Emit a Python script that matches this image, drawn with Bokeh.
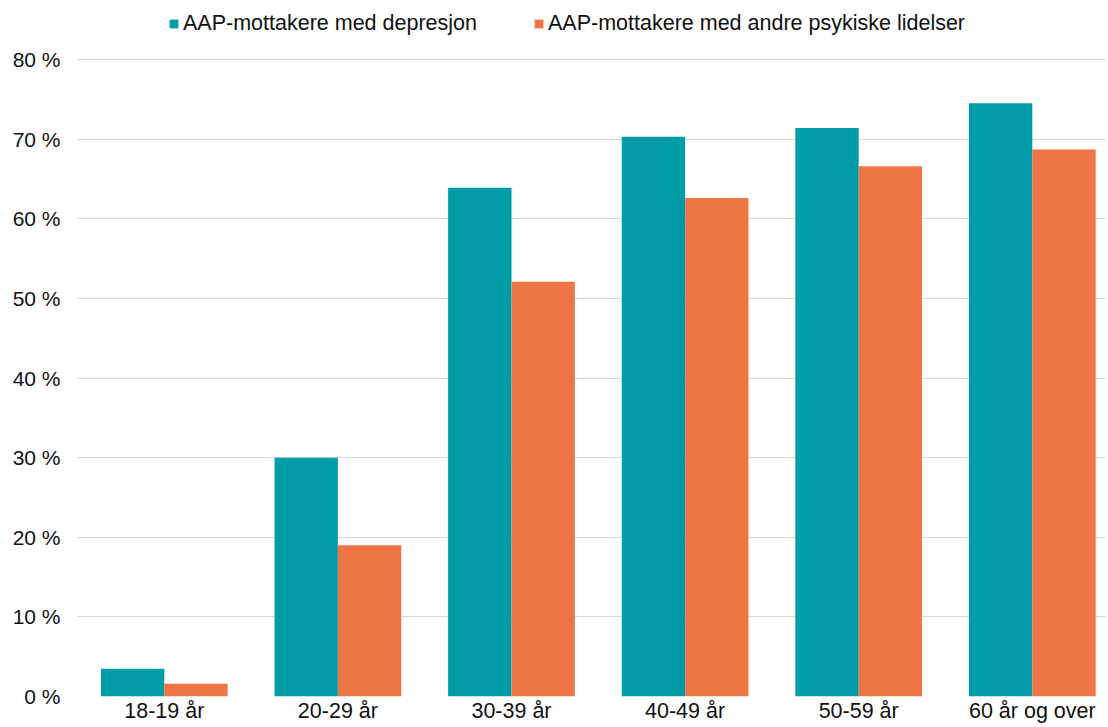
from bokeh.plotting import figure
from bokeh.models import Range1d, FixedTicker, Legend, LegendItem, ColumnDataSource
from bokeh.embed import file_html
from bokeh.resources import INLINE

categories = ["18-19 år", "20-29 år", "30-39 år", "40-49 år", "50-59 år", "60 år og over"]
depresjon = [3.5, 30.0, 63.9, 70.3, 71.4, 74.5]
andre = [1.6, 19.0, 52.1, 62.6, 66.6, 68.7]
y_ticks = [0, 10, 20, 30, 40, 50, 60, 70, 80]
series_names = ["AAP-mottakere med depresjon", "AAP-mottakere med andre psykiske lidelser"]
colors = ["#009CA8", "#F07546"]

FONT = "Liberation Sans"
TXT = "#111111"
FIG_W, FIG_H = 1106, 725
LEFT = 77                  # frame left border (px)
GROUP_PX = 173.6           # width of one category group (px)
FRAME_H_EST = 696          # expected frame height (px)
TOP_SPACE = 59             # px between frame top and the 80 % line (room for legend)
Y_END = 80 * FRAME_H_EST / (FRAME_H_EST - TOP_SPACE)
X_END = (FIG_W - LEFT) / GROUP_PX

idx = list(range(len(categories)))
centers = [i + 0.5 for i in idx]
bar_w = 0.365
src = ColumnDataSource(dict(
    x1=[c - bar_w / 2 for c in centers],
    x2=[c + bar_w / 2 for c in centers],
    dep=depresjon,
    andre=andre,
))

p = figure(width=FIG_W, height=FIG_H, output_backend="svg", toolbar_location=None,
           x_range=Range1d(0, X_END), y_range=Range1d(0, Y_END),
           min_border_left=LEFT, min_border_right=0, min_border_top=0, min_border_bottom=0)

r1 = p.vbar(x="x1", top="dep", width=bar_w, source=src, fill_color=colors[0], line_color=None)
r2 = p.vbar(x="x2", top="andre", width=bar_w, source=src, fill_color=colors[1], line_color=None)

p.outline_line_color = None
p.background_fill_color = "white"
p.border_fill_color = "white"

p.xgrid.grid_line_color = None
p.ygrid.grid_line_color = "#D9D9D9"
p.ygrid.grid_line_width = 1.2
p.ygrid.ticker = FixedTicker(ticks=y_ticks)

for ax in (p.xaxis, p.yaxis):
    ax.axis_line_color = None
    ax.major_tick_line_color = None
    ax.minor_tick_line_color = None
    ax.major_tick_out = 0
    ax.major_tick_in = 0
    ax.minor_tick_out = 0
    ax.minor_tick_in = 0
    ax.major_label_text_font = FONT
    ax.major_label_text_color = TXT

p.yaxis.ticker = FixedTicker(ticks=y_ticks)
p.yaxis.major_label_overrides = {t: f"{t} %" for t in y_ticks}
p.yaxis.major_label_standoff = 17
p.yaxis.major_label_text_font_size = "21px"

p.xaxis.ticker = FixedTicker(ticks=centers)
p.xaxis.major_label_overrides = {c: lab for c, lab in zip(centers, categories)}
p.xaxis.major_label_standoff = 2
p.xaxis.major_label_text_font_size = "21.5px"

legend = Legend(items=[LegendItem(label=series_names[0], renderers=[r1]),
                       LegendItem(label=series_names[1], renderers=[r2])],
                orientation="horizontal", location=(91, FRAME_H_EST - 13.5 - 22),
                padding=0, margin=0, spacing=56, label_standoff=4,
                glyph_width=11, glyph_height=11,
                label_text_font=FONT, label_text_font_size="21.5px",
                label_text_color=TXT, label_height=22,
                border_line_color=None, background_fill_alpha=0)
p.add_layout(legend)

open("out.html", "w").write(file_html(p, INLINE))
